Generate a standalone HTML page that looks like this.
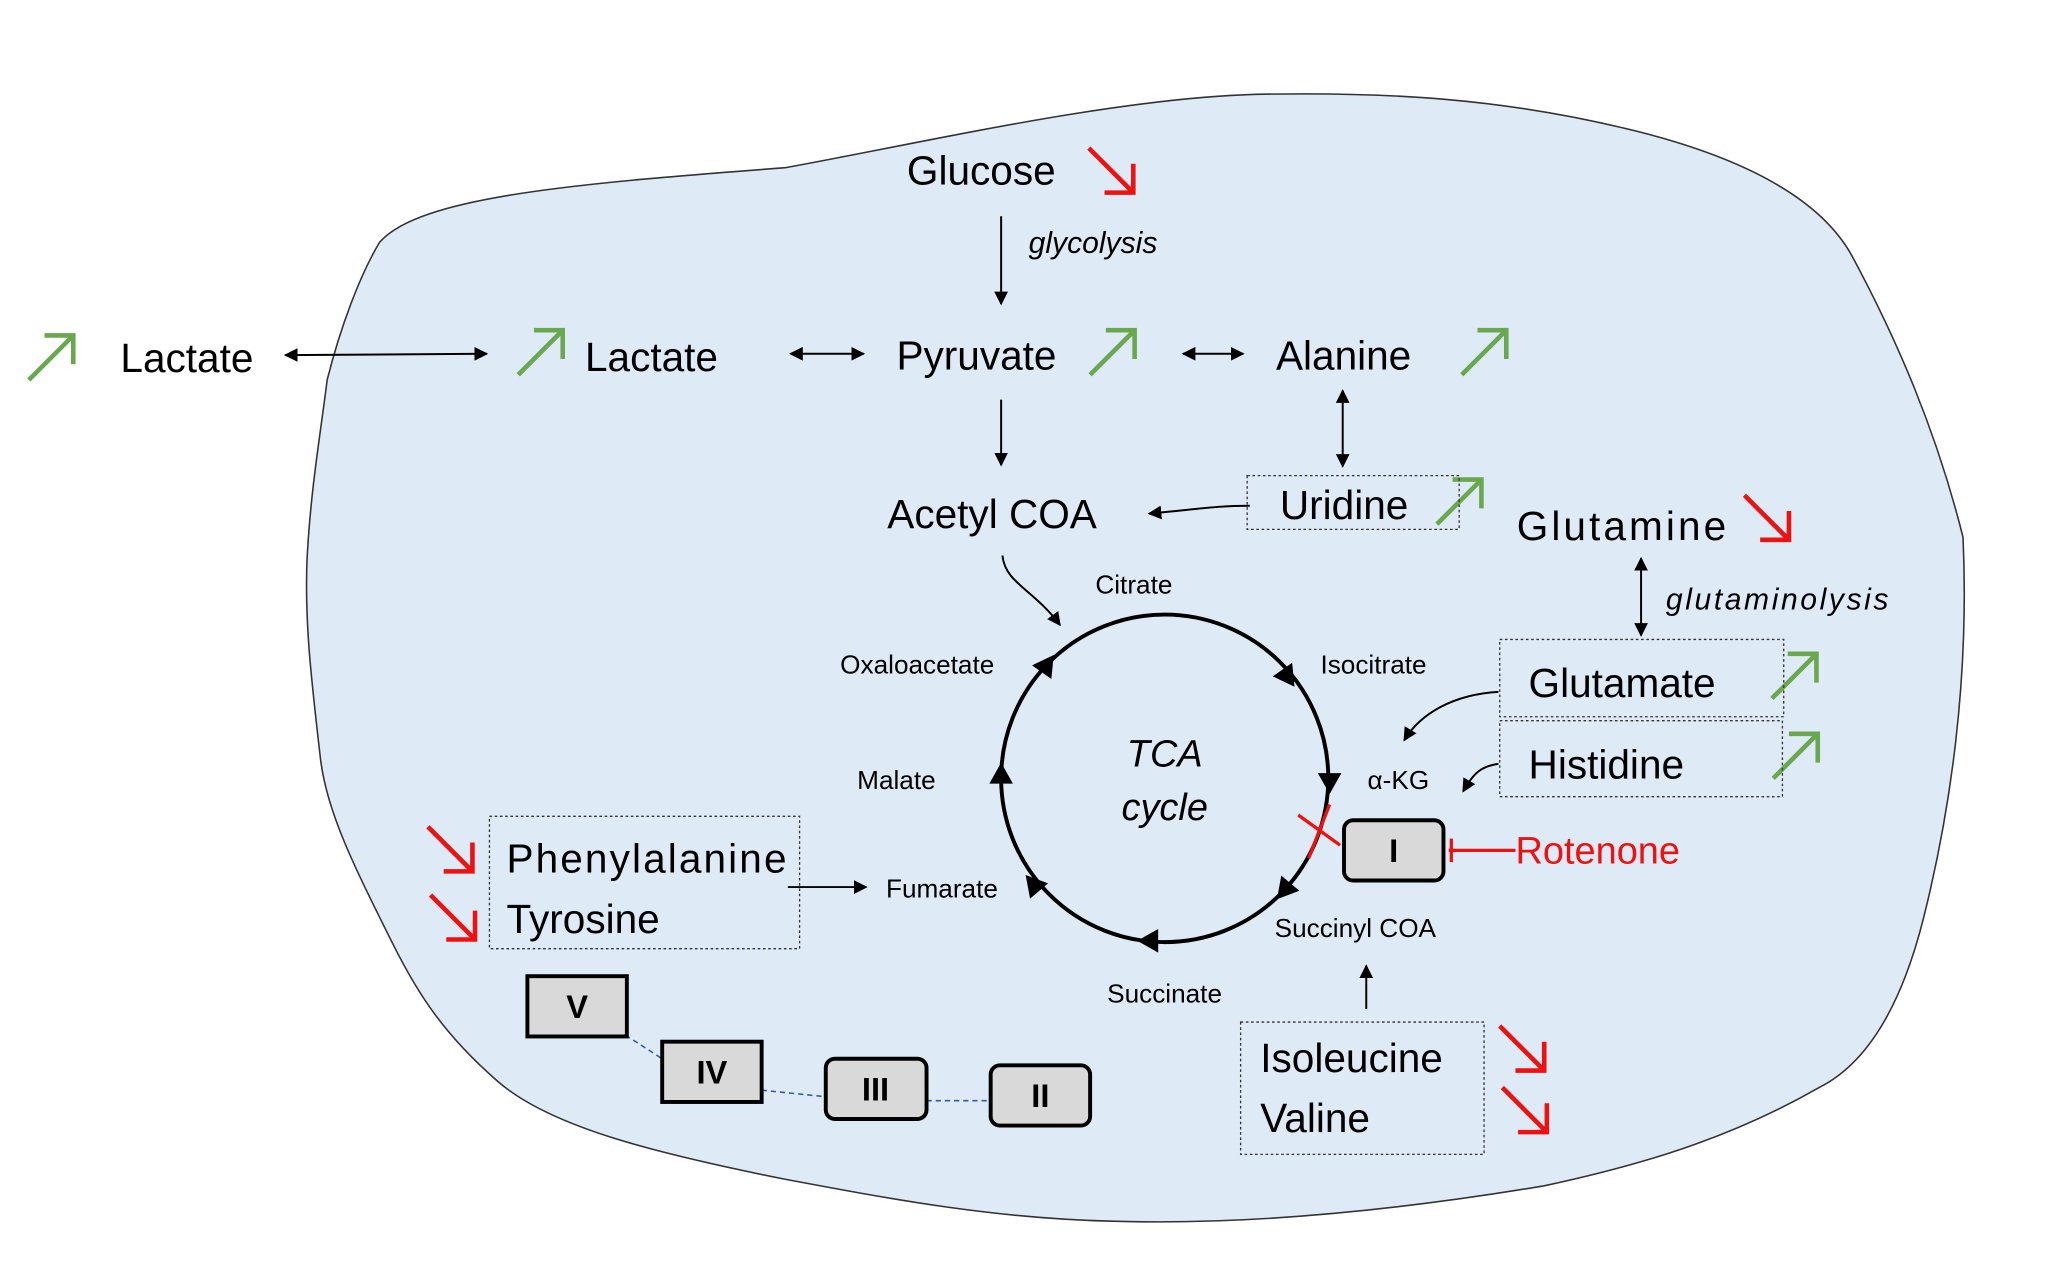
<!DOCTYPE html>
<html><head><meta charset="utf-8"><style>
html,body{margin:0;padding:0;background:#fff;}
svg{display:block;}
text{font-family:"Liberation Sans",sans-serif;}
</style></head><body>
<svg width="2052" height="1271" viewBox="0 0 1568 970" preserveAspectRatio="none" xmlns="http://www.w3.org/2000/svg">
<defs>
<marker id="ah" viewBox="0 0 10 10" refX="9" refY="5" markerWidth="7" markerHeight="7" orient="auto-start-reverse"><path d="M0,0 L10,5 L0,10 z" fill="#000"/></marker>
<g id="up"><path d="M0,34 L34,0 M12,0 L34,0 L34,22" fill="none" stroke="#6aa84f" stroke-width="3.5"/></g>
<g id="dn"><path d="M0,0 L34,34 M34,12 L34,34 L12,34" fill="none" stroke="#ee1111" stroke-width="3.5"/></g>
</defs>
<path d="M290,185 C320,150 440,140 600,128 C700,110 850,75 960,72 C1060,70 1150,75 1250,100 C1330,120 1390,150 1415,195 C1450,260 1480,330 1500,410 C1505,520 1490,620 1470,700 C1450,780 1420,815 1390,830 C1320,870 1250,890 1180,905 C1060,925 950,935 850,932 C760,930 680,915 600,900 C500,880 420,860 380,825 C340,790 320,760 300,720 C270,660 250,620 245,580 C238,520 232,470 235,420 C238,370 245,330 250,290 C260,250 275,210 290,185 Z" fill="#deeaf6" stroke="#333" stroke-width="1.2"/>

<g font-size="31" fill="#000">
<text x="693" y="141">Glucose</text>
<text x="92" y="284">Lactate</text>
<text x="447" y="283">Lactate</text>
<text x="685" y="282">Pyruvate</text>
<text x="975" y="282">Alanine</text>
<text x="678" y="403">Acetyl COA</text>
<text x="978" y="396">Uridine</text>
<text x="1159" y="412" textLength="160">Glutamine</text>
<text x="1168" y="532">Glutamate</text>
<text x="1168" y="594">Histidine</text>
<text x="387" y="666" textLength="214">Phenylalanine</text>
<text x="387" y="712">Tyrosine</text>
<text x="963" y="818">Isoleucine</text>
<text x="963" y="864">Valine</text>
</g>
<text x="1158" y="659" font-size="29" fill="#ee1111">Rotenone</text>
<g font-size="23" font-style="italic">
<text x="786" y="193">glycolysis</text>
<text x="1273" y="465" textLength="170">glutaminolysis</text>
</g>
<g font-size="29" font-style="italic" text-anchor="middle">
<text x="890" y="585">TCA</text>
<text x="890" y="626">cycle</text>
</g>
<g font-size="20">
<text x="837" y="453">Citrate</text>
<text x="1009" y="514">Isocitrate</text>
<text x="642" y="514">Oxaloacetate</text>
<text x="655" y="602">Malate</text>
<text x="1045" y="602">α-KG</text>
<text x="677" y="685">Fumarate</text>
<text x="974" y="715">Succinyl COA</text>
<text x="846" y="765">Succinate</text>
</g>

<use href="#dn" x="832" y="113"/>
<use href="#up" x="22" y="256"/>
<use href="#up" x="396" y="252"/>
<use href="#up" x="833" y="252"/>
<use href="#up" x="1117" y="252"/>
<use href="#up" x="1098" y="366"/>
<use href="#dn" x="1333" y="378"/>
<use href="#up" x="1354" y="499"/>
<use href="#up" x="1355" y="560"/>
<use href="#dn" x="327" y="631"/>
<use href="#dn" x="329" y="683"/>
<use href="#dn" x="1146" y="783"/>
<use href="#dn" x="1148" y="830"/>

<g stroke="#000" stroke-width="1.5" fill="none">
<line x1="765" y1="165" x2="765" y2="232" marker-end="url(#ah)"/>
<line x1="765" y1="305" x2="765" y2="355" marker-end="url(#ah)"/>
<line x1="218" y1="271" x2="372" y2="270" marker-start="url(#ah)" marker-end="url(#ah)"/>
<line x1="604" y1="270" x2="660" y2="270" marker-start="url(#ah)" marker-end="url(#ah)"/>
<line x1="904" y1="270" x2="950" y2="270" marker-start="url(#ah)" marker-end="url(#ah)"/>
<line x1="1026" y1="298" x2="1026" y2="356" marker-start="url(#ah)" marker-end="url(#ah)"/>
<line x1="1254" y1="426" x2="1254" y2="485" marker-start="url(#ah)" marker-end="url(#ah)"/>
<path d="M955,386 C930,386 920,388 878,392" marker-end="url(#ah)"/>
<path d="M766,424 C768,445 790,450 810,477" marker-end="url(#ah)"/>
<path d="M1145,528 C1110,530 1085,545 1073,565" marker-end="url(#ah)"/>
<path d="M1145,583 C1130,585 1125,592 1118,604" marker-end="url(#ah)"/>
<line x1="602" y1="677" x2="662" y2="677" marker-end="url(#ah)"/>
<line x1="1044" y1="770" x2="1044" y2="737" marker-end="url(#ah)"/>
</g>

<circle cx="890" cy="594" r="125" fill="none" stroke="#000" stroke-width="3"/>
<g fill="#000">
<path d="M0,-9 L16,0 L0,9 z" transform="translate(980,511) rotate(55)"/>
<path d="M0,-9 L16,0 L0,9 z" transform="translate(1016,590) rotate(90)"/>
<path d="M0,-9 L16,0 L0,9 z" transform="translate(986,674) rotate(130)"/>
<path d="M0,-9 L16,0 L0,9 z" transform="translate(885,718) rotate(180)"/>
<path d="M0,-9 L16,0 L0,9 z" transform="translate(794,680) rotate(-130)"/>
<path d="M0,-9 L16,0 L0,9 z" transform="translate(765,598) rotate(-90)"/>
<path d="M0,-9 L16,0 L0,9 z" transform="translate(796,513) rotate(-55)"/>
</g>
<g stroke="#ee1111" stroke-width="2.5">
<line x1="992" y1="622" x2="1024" y2="645"/>
<line x1="1000" y1="655" x2="1016" y2="614"/>
<line x1="1107" y1="649" x2="1158" y2="649"/>
<line x1="1109" y1="640" x2="1109" y2="658"/>
</g>

<g fill="none" stroke="#333" stroke-width="1" stroke-dasharray="2,2">
<rect x="953" y="363" width="162" height="41"/>
<rect x="1146" y="488" width="217" height="59"/>
<rect x="1146" y="550" width="216" height="58"/>
<rect x="374" y="623" width="237" height="101"/>
<rect x="948" y="780" width="186" height="101"/>
</g>
<g fill="none" stroke="#2e5fa0" stroke-width="1.2" stroke-dasharray="4,3">
<line x1="478" y1="790" x2="506" y2="808"/>
<line x1="582" y1="832" x2="631" y2="837"/>
<line x1="708" y1="840" x2="756" y2="840"/>
</g>
<g stroke="#000" stroke-width="3" fill="#d9d9d9">
<rect x="1027" y="626" width="76" height="46" rx="7"/>
<rect x="631" y="808" width="77" height="46" rx="7"/>
<rect x="757" y="813" width="76" height="46" rx="7"/>
<rect x="403" y="745" width="76" height="46"/>
<rect x="506" y="795" width="76" height="46"/>
</g>
<g font-size="25" font-weight="bold" text-anchor="middle">
<text x="1065" y="658">I</text>
<text x="669" y="840">III</text>
<text x="795" y="845">II</text>
<text x="441" y="777">V</text>
<text x="544" y="827">IV</text>
</g>
</svg>
</body></html>
